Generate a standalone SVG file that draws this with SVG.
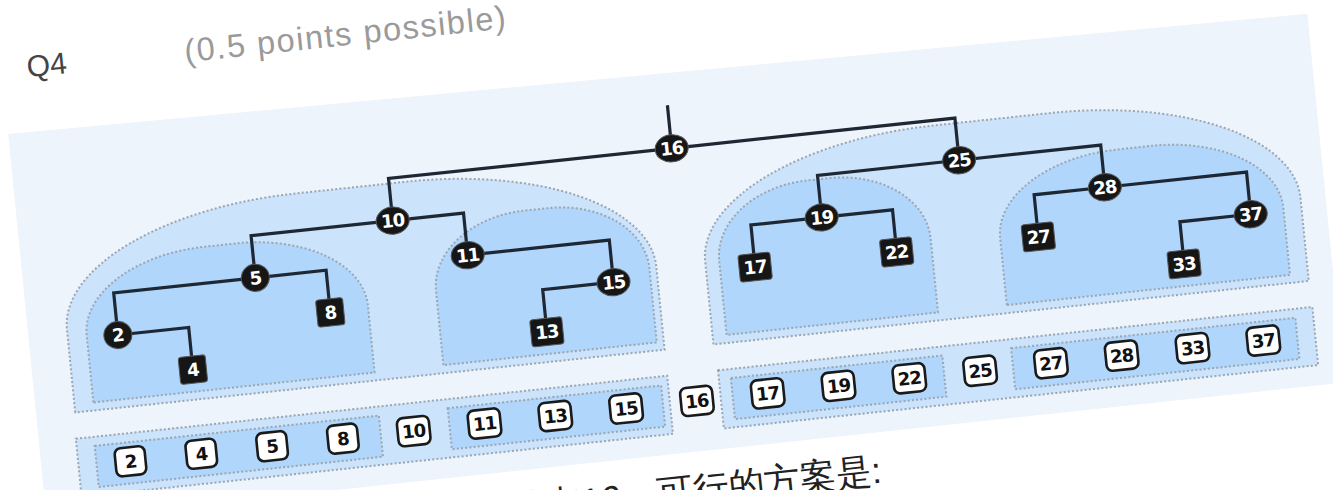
<svg xmlns="http://www.w3.org/2000/svg" width="1333" height="490" viewBox="0 0 1333 490">
<style>
.panel{fill:#eef4fb}
.outer{fill:#cbe3fb;stroke:#9aa6b3;stroke-width:2;stroke-dasharray:2 2.2}
.inner{fill:#b0d6fb;stroke:#9aa6b3;stroke-width:2;stroke-dasharray:2 2.2}
.edge{fill:none;stroke:#1e2834;stroke-width:3.2;stroke-linejoin:miter}
.dark{fill:#161616;stroke:#555;stroke-width:1}
.lbl{font-family:"DejaVu Sans",sans-serif;font-weight:bold;font-size:18px;fill:#fff;text-anchor:middle;letter-spacing:-1px}
.box{fill:#fff;stroke:#1a1a1a;stroke-width:2.6}
.blbl{font-family:"DejaVu Sans",sans-serif;font-weight:bold;font-size:18px;fill:#111;text-anchor:middle;letter-spacing:-1px}
.hdr{font-family:"Liberation Sans",Arial,sans-serif}
</style>
<rect x="0" y="0" width="1333" height="490" fill="#ffffff"/>
<g transform="matrix(0.9972,-0.1063,0.1,1.0024,105.3,208.7)">
  <text class="hdr" x="-64" y="-138" font-size="30" fill="#444">Q4</text>
  <text class="hdr" x="94" y="-136" font-size="32.5" fill="#9a9a9a" textLength="322" lengthAdjust="spacing">(0.5 points possible)</text>
  <polygon class="panel" points="-89,-84 1212,-66 1212,302 -89,302"/>
  <text class="hdr" x="300" y="352" font-size="36" fill="#222">删除节点16，可行的方案是:</text>

  <g id="subtree-10">
    <path class="outer" d="M-50,198 V115 A240,110 0 0 1 190,5 H301 A240,110 0 0 1 541,115 V198 Z"/>
  </g>
  <g id="subtree-25">
    <path class="outer" d="M590,198 V115 A240,110 0 0 1 830,5 H947 A240,110 0 0 1 1187,115 V198 Z"/>
  </g>
  <g id="subtree-5">
    <path class="inner" d="M-31,190 V123 A125,75 0 0 1 94,48 H126 A125,75 0 0 1 251,123 V190 Z"/>
  </g>
  <g id="subtree-11">
    <path class="inner" d="M320,190 V116 A95,70 0 0 1 415,46 H439 A95,70 0 0 1 534,116 V190 Z"/>
  </g>
  <g id="subtree-19">
    <path class="inner" d="M604,190 V116 A95,70 0 0 1 699,46 H721 A95,70 0 0 1 816,116 V190 Z"/>
  </g>
  <g id="subtree-28">
    <path class="inner" d="M885,190 V123 A125,75 0 0 1 1010,48 H1044 A125,75 0 0 1 1169,123 V190 Z"/>
  </g>

  <g id="seq-left">
    <rect class="outer" x="-52" y="224" width="593" height="58"/>
    <rect class="inner" x="-34" y="233" width="285" height="41"/>
    <rect class="inner" x="320" y="233" width="214" height="41"/>
  </g>
  <g id="seq-right">
    <rect class="outer" x="592" y="224" width="596" height="58"/>
    <rect class="inner" x="604" y="233" width="212" height="41"/>
    <rect class="inner" x="885" y="233" width="285" height="41"/>
  </g>

  <g id="connectors">
    <path class="edge" d="M568,0 V-43"/>
    <path class="edge" d="M568,0 H284 V42"/>
    <path class="edge" d="M568,0 H852 V42"/>
    <path class="edge" d="M284,42 H142 V84"/>
    <path class="edge" d="M284,42 H355 V84"/>
    <path class="edge" d="M142,84 H0 V126"/>
    <path class="edge" d="M142,84 H213 V126"/>
    <path class="edge" d="M0,126 H71 V168"/>
    <path class="edge" d="M355,84 H497 V126"/>
    <path class="edge" d="M497,126 H426 V168"/>
    <path class="edge" d="M852,42 H710 V84"/>
    <path class="edge" d="M852,42 H994 V84"/>
    <path class="edge" d="M710,84 H639 V126"/>
    <path class="edge" d="M710,84 H781 V126"/>
    <path class="edge" d="M994,84 H923 V126"/>
    <path class="edge" d="M994,84 H1136 V126"/>
    <path class="edge" d="M1136,126 H1065 V168"/>
  </g>

  <g id="node-16"><ellipse class="dark" cx="568" cy="0" rx="16.5" ry="13.5"/><text class="lbl" x="568" y="6.5">16</text></g>
  <g id="node-10"><ellipse class="dark" cx="284" cy="42" rx="16.5" ry="13.5"/><text class="lbl" x="284" y="48.5">10</text></g>
  <g id="node-25"><ellipse class="dark" cx="852" cy="42" rx="16.5" ry="13.5"/><text class="lbl" x="852" y="48.5">25</text></g>
  <g id="node-5"><ellipse class="dark" cx="142" cy="84" rx="14" ry="13.5"/><text class="lbl" x="142" y="90.5">5</text></g>
  <g id="node-11"><ellipse class="dark" cx="355" cy="84" rx="16.5" ry="13.5"/><text class="lbl" x="355" y="90.5">11</text></g>
  <g id="node-19"><ellipse class="dark" cx="710" cy="84" rx="16.5" ry="13.5"/><text class="lbl" x="710" y="90.5">19</text></g>
  <g id="node-28"><ellipse class="dark" cx="994" cy="84" rx="16.5" ry="13.5"/><text class="lbl" x="994" y="90.5">28</text></g>
  <g id="node-2"><ellipse class="dark" cx="0" cy="126" rx="14" ry="13.5"/><text class="lbl" x="0" y="132.5">2</text></g>
  <g id="node-15"><ellipse class="dark" cx="497" cy="126" rx="16.5" ry="13.5"/><text class="lbl" x="497" y="132.5">15</text></g>
  <g id="node-37"><ellipse class="dark" cx="1136" cy="126" rx="16.5" ry="13.5"/><text class="lbl" x="1136" y="132.5">37</text></g>
  <g id="node-4"><rect class="dark" x="57.5" y="154.5" width="27" height="27" rx="3"/><text class="lbl" x="71" y="174.5">4</text></g>
  <g id="node-8"><rect class="dark" x="199.5" y="112.5" width="27" height="27" rx="3"/><text class="lbl" x="213" y="132.5">8</text></g>
  <g id="node-13"><rect class="dark" x="410" y="154.5" width="32" height="27" rx="3"/><text class="lbl" x="426" y="174.5">13</text></g>
  <g id="node-17"><rect class="dark" x="623" y="112.5" width="32" height="27" rx="3"/><text class="lbl" x="639" y="132.5">17</text></g>
  <g id="node-22"><rect class="dark" x="765" y="112.5" width="32" height="27" rx="3"/><text class="lbl" x="781" y="132.5">22</text></g>
  <g id="node-27"><rect class="dark" x="907" y="112.5" width="32" height="27" rx="3"/><text class="lbl" x="923" y="132.5">27</text></g>
  <g id="node-33"><rect class="dark" x="1049" y="154.5" width="32" height="27" rx="3"/><text class="lbl" x="1065" y="174.5">33</text></g>

  <g id="seq-boxes">
    <g id="seq-2"><rect class="box" x="-15" y="238" width="30" height="28" rx="6"/><text class="blbl" x="0" y="258.5">2</text></g>
    <g id="seq-4"><rect class="box" x="56" y="238" width="30" height="28" rx="6"/><text class="blbl" x="71" y="258.5">4</text></g>
    <g id="seq-5"><rect class="box" x="127" y="238" width="30" height="28" rx="6"/><text class="blbl" x="142" y="258.5">5</text></g>
    <g id="seq-8"><rect class="box" x="198" y="238" width="30" height="28" rx="6"/><text class="blbl" x="213" y="258.5">8</text></g>
    <g id="seq-10"><rect class="box" x="268" y="238" width="32" height="28" rx="6"/><text class="blbl" x="284" y="258.5">10</text></g>
    <g id="seq-11"><rect class="box" x="339" y="238" width="32" height="28" rx="6"/><text class="blbl" x="355" y="258.5">11</text></g>
    <g id="seq-13"><rect class="box" x="410" y="238" width="32" height="28" rx="6"/><text class="blbl" x="426" y="258.5">13</text></g>
    <g id="seq-15"><rect class="box" x="481" y="238" width="32" height="28" rx="6"/><text class="blbl" x="497" y="258.5">15</text></g>
    <g id="seq-16"><rect class="box" x="552" y="238" width="32" height="28" rx="6"/><text class="blbl" x="568" y="258.5">16</text></g>
    <g id="seq-17"><rect class="box" x="623" y="238" width="32" height="28" rx="6"/><text class="blbl" x="639" y="258.5">17</text></g>
    <g id="seq-19"><rect class="box" x="694" y="238" width="32" height="28" rx="6"/><text class="blbl" x="710" y="258.5">19</text></g>
    <g id="seq-22"><rect class="box" x="765" y="238" width="32" height="28" rx="6"/><text class="blbl" x="781" y="258.5">22</text></g>
    <g id="seq-25"><rect class="box" x="836" y="238" width="32" height="28" rx="6"/><text class="blbl" x="852" y="258.5">25</text></g>
    <g id="seq-27"><rect class="box" x="907" y="238" width="32" height="28" rx="6"/><text class="blbl" x="923" y="258.5">27</text></g>
    <g id="seq-28"><rect class="box" x="978" y="238" width="32" height="28" rx="6"/><text class="blbl" x="994" y="258.5">28</text></g>
    <g id="seq-33"><rect class="box" x="1049" y="238" width="32" height="28" rx="6"/><text class="blbl" x="1065" y="258.5">33</text></g>
    <g id="seq-37"><rect class="box" x="1120" y="238" width="32" height="28" rx="6"/><text class="blbl" x="1136" y="258.5">37</text></g>
  </g>
</g>
</svg>
